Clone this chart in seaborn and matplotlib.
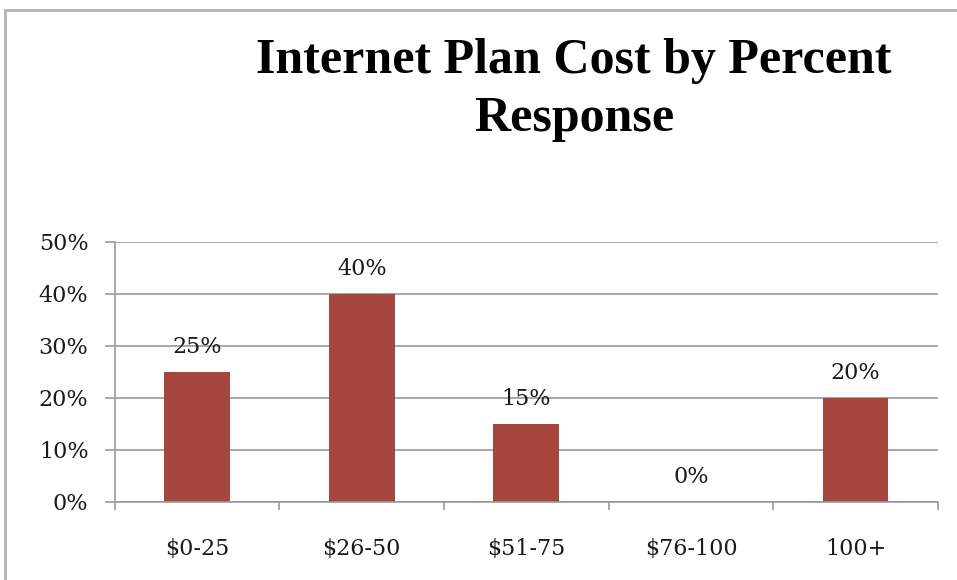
import matplotlib
matplotlib.use("Agg")
import matplotlib.pyplot as plt
import seaborn as sns
import pandas as pd
from matplotlib.patches import Rectangle
from matplotlib.ticker import PercentFormatter

categories = ["$0-25", "$26-50", "$51-75", "$76-100", "100+"]
percent_response = [25, 40, 15, 0, 20]
y_ticks = [0, 10, 20, 30, 40, 50]

sns.set_theme(style="white")
plt.rcParams["font.family"] = ["DejaVu Serif"]

df = pd.DataFrame({"cost": categories, "pct": percent_response})

fig = plt.figure(figsize=(9.57, 5.8), dpi=100)
ax = fig.add_axes([0.120, 0.1345, 0.860, 0.4483])

sns.barplot(data=df, x="cost", y="pct", color="#A5463F", saturation=1,
            width=0.4, linewidth=0, ax=ax)

ax.set_ylim(0, 50)
ax.set_xlim(-0.5, len(categories) - 0.5)
ax.set_yticks(y_ticks)
ax.yaxis.set_major_formatter(PercentFormatter(decimals=0))
ax.set_xlabel("")
ax.set_ylabel("")
ax.grid(axis="y", color="#9a9a9a", linewidth=1.2)
ax.set_axisbelow(True)

for side in ["top", "right"]:
    ax.spines[side].set_visible(False)
for side in ["left", "bottom"]:
    ax.spines[side].set_color("#9a9a9a")
    ax.spines[side].set_linewidth(1.2)

# category boundary ticks on the x axis
ax.set_xticks([i - 0.5 for i in range(len(categories) + 1)], minor=True)
ax.tick_params(axis="x", which="minor", bottom=True, length=6, width=1.2,
               color="#9a9a9a", direction="out")
ax.tick_params(axis="x", which="major", bottom=False, pad=20,
               labelsize=16, labelcolor="#1a1a1a")
ax.tick_params(axis="y", left=True, length=7, width=1.2, color="#9a9a9a",
               direction="out", pad=12, labelsize=16, labelcolor="#1a1a1a")

ax.bar_label(ax.containers[0], labels=[f"{v}%" for v in percent_response],
             padding=10, fontsize=16, color="#1a1a1a")

fig.text(0.600, 0.845, "Internet Plan Cost by Percent\nResponse",
         ha="center", va="center", fontsize=36, fontweight="bold",
         family="Liberation Serif", linespacing=1.35, color="black")

# chart area border
fig.patches.append(Rectangle((5 / 957, -0.05), 1.2, 1.05 - 10 / 580,
                             transform=fig.transFigure, fill=False,
                             edgecolor="#b5b5b5", linewidth=2))

fig.savefig("out.png", dpi=100)
